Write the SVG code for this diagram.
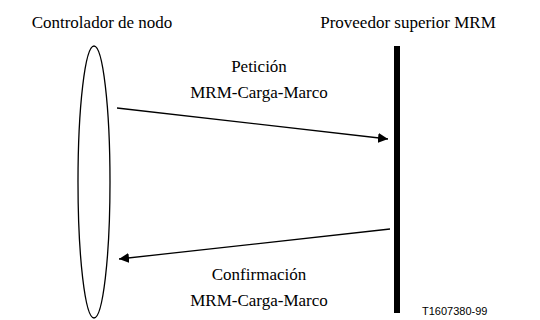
<svg xmlns="http://www.w3.org/2000/svg" width="540" height="320" viewBox="0 0 540 320">
<style>
.c{stroke:#000;stroke-width:1.3;fill:none}
</style>
<defs>
<marker id="ah" viewBox="0 0 10 10" refX="10" refY="5" markerWidth="10" markerHeight="10" markerUnits="userSpaceOnUse" orient="auto">
<path d="M0,0 L10,5 L0,10 z" fill="#000"/>
</marker>
</defs>
<rect width="540" height="320" fill="#fff"/>
<g id="controlador">
<ellipse cx="94" cy="182" rx="16" ry="136" class="c"/>
<text style="font-family:'Liberation Serif',serif !important;font-size:17px !important" x="102" y="28" text-anchor="middle">Controlador de nodo</text>
</g>
<g id="proveedor">
<rect x="394" y="46" width="6" height="267" fill="#000"/>
<text style="font-family:'Liberation Serif',serif !important;font-size:17px !important" x="408" y="28" text-anchor="middle">Proveedor superior MRM</text>
</g>
<g id="connectors">
<line x1="117" y1="108" x2="388" y2="139" class="c" marker-end="url(#ah)"/>
<line x1="390" y1="229" x2="119" y2="259" class="c" marker-end="url(#ah)"/>
</g>
<g id="labels" text-anchor="middle">
<text style="font-family:'Liberation Serif',serif !important;font-size:17px !important" x="259" y="72">Petición</text>
<text style="font-family:'Liberation Serif',serif !important;font-size:17px !important" x="259" y="98">MRM-Carga-Marco</text>
<text style="font-family:'Liberation Serif',serif !important;font-size:17px !important" x="259" y="280">Confirmación</text>
<text style="font-family:'Liberation Serif',serif !important;font-size:17px !important" x="259" y="306">MRM-Carga-Marco</text>
<text style="font-family:'Liberation Sans',sans-serif !important;font-size:11px !important" text-anchor="start" x="422" y="315">T1607380-99</text>
</g>
</svg>
